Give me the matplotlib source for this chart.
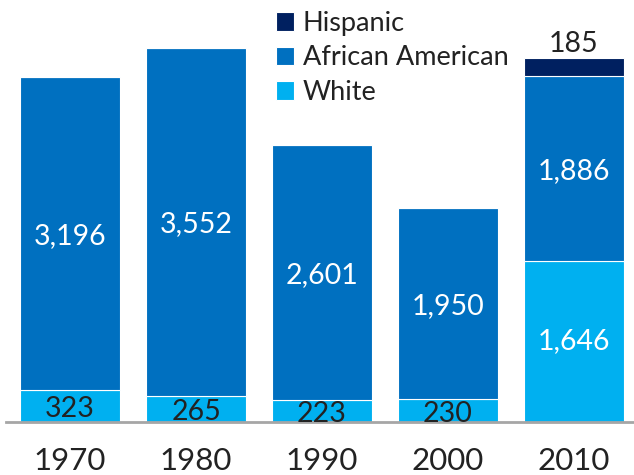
import matplotlib
matplotlib.use('Agg')
import matplotlib.pyplot as plt
import numpy as np

years = ['1970', '1980', '1990', '2000', '2010']
white = [323, 265, 223, 230, 1646]
african_american = [3196, 3552, 2601, 1950, 1886]
hispanic = [0, 0, 0, 0, 185]

plt.rcParams['font.family'] = ['Lato', 'DejaVu Sans']

fig = plt.figure(figsize=(6.34, 4.75), dpi=100)
ax = fig.add_axes([0, 53 / 475, 1, 422 / 475])

x = np.arange(len(years))
w = 0.79
c_white = '#00B0F0'
c_aa = '#0070C0'
c_hisp = '#002060'

b1 = ax.bar(x, white, w, color=c_white, edgecolor='white', linewidth=0.8, label='White')
aa_bottom = np.array(white)
b2 = ax.bar(x, african_american, w, bottom=aa_bottom, color=c_aa, edgecolor='white', linewidth=0.8, label='African American')
h_bottom = aa_bottom + np.array(african_american)
b3 = ax.bar(x, hispanic, w, bottom=h_bottom, color=c_hisp, edgecolor='white', linewidth=0.8, label='Hispanic')

for i in range(len(years)):
    # small white segments get dark labels, big ones white
    col = 'white' if white[i] > 1000 else '#222222'
    off = 0 if white[i] > 1000 else -30
    ax.text(x[i], white[i] / 2 + off, f'{white[i]:,}', ha='center', va='center', fontsize=20.5, color=col)
    ax.text(x[i], aa_bottom[i] + african_american[i] / 2 - 25, f'{african_american[i]:,}',
            ha='center', va='center', fontsize=20.5, color='white')
    if hispanic[i] > 0:
        ax.text(x[i], h_bottom[i] + hispanic[i] + 5, f'{hispanic[i]:,}',
                ha='center', va='bottom', fontsize=20.5, color='#222222')

ax.set_xlim(-0.556, 4.476)
ax.set_ylim(0, 4306)
for s in ['top', 'right', 'left']:
    ax.spines[s].set_visible(False)
ax.spines['bottom'].set_color('#A6A6A6')
ax.spines['bottom'].set_linewidth(2)
ax.spines['bottom'].set_bounds(-0.51, 4.476)
ax.set_yticks([])
ax.set_xticks(x)
ax.set_xticklabels(years, fontsize=22.5, color='#222222')
ax.tick_params(axis='x', length=0, pad=18)

handles = [b3, b2, b1]
leg = ax.legend(handles, ['Hispanic', 'African American', 'White'], loc='upper left',
                bbox_to_anchor=(265 / 634, 1.0), frameon=False, fontsize=19.5,
                handlelength=0.68, handleheight=0.68, handletextpad=0.32, labelspacing=0.35,
                borderaxespad=0)
for t in leg.get_texts():
    t.set_color('#222222')

fig.savefig('out.png', dpi=100)
